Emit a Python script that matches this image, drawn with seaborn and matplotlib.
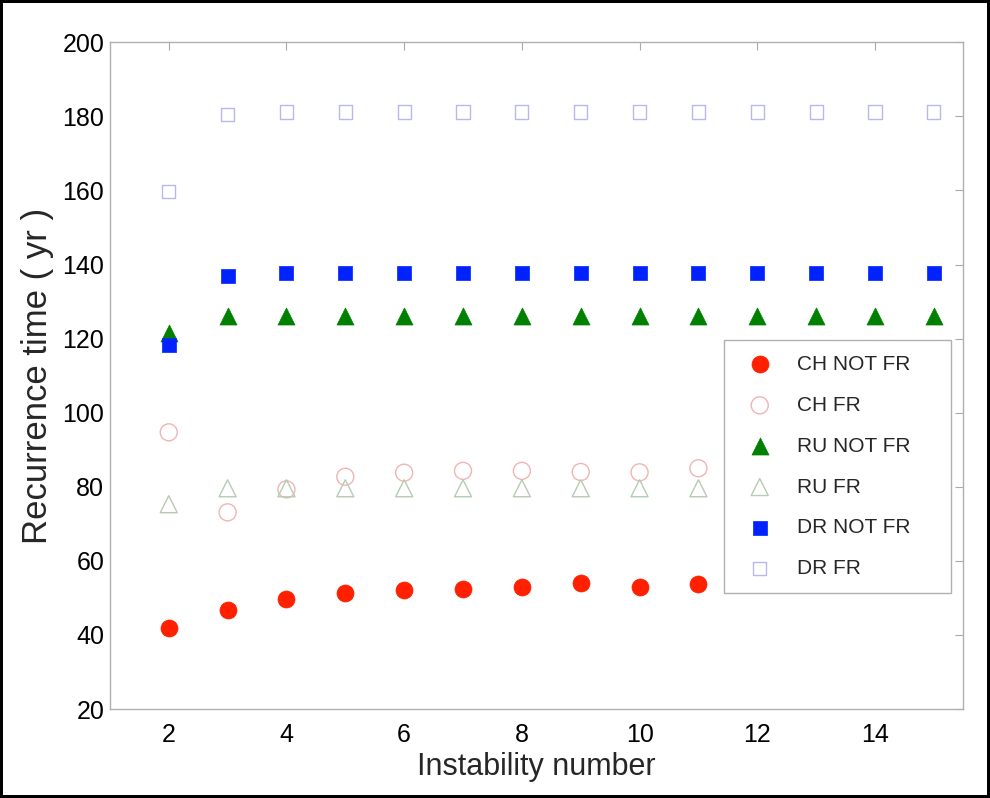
import numpy as np
import pandas as pd
import seaborn as sns
import matplotlib.pyplot as plt

## datos
x_full = [2, 3, 4, 5, 6, 7, 8, 9, 10, 11, 12, 13, 14, 15]
x_part = [2, 3, 4, 5, 6, 7, 8, 9, 10, 11]

ch_not_fr = [41.8, 46.7, 49.6, 51.2, 52.0, 52.3, 53.0, 53.9, 52.9, 53.8]
ch_fr = [94.7, 73.1, 79.3, 82.7, 83.8, 84.3, 84.3, 84.0, 83.9, 85.0]
ru_not_fr = [121.5, 126, 126, 126, 126, 126, 126, 126, 126, 126, 126, 126, 126, 126]
ru_fr = [75.3, 79.6, 79.6, 79.6, 79.6, 79.6, 79.6, 79.6, 79.6, 79.6]
dr_not_fr = [118.2, 136.9, 137.6, 137.6, 137.6, 137.6, 137.6, 137.6, 137.6, 137.6, 137.6, 137.6, 137.6, 137.6]
dr_fr = [159.8, 180.5, 181.2, 181.2, 181.2, 181.2, 181.2, 181.2, 181.2, 181.2, 181.2, 181.2, 181.2, 181.2]

sns.set_theme(style='white')
plt.rcParams['font.family'] = ['Liberation Sans Narrow', 'Liberation Sans', 'DejaVu Sans']

fig = plt.figure(figsize=(9.9, 7.98), dpi=100)
fig.patch.set_edgecolor('black')
fig.patch.set_linewidth(3)
ax = fig.add_axes([0.111, 0.1115, 0.862, 0.8355])

## series: (etiqueta, x, y, marcador, tamaño, color, relleno)
series = [
    ('CH NOT FR', x_part, ch_not_fr, 'o', 150, '#ff2000', True),
    ('CH FR', x_part, ch_fr, 'o', 150, '#f0b4b4', False),
    ('RU NOT FR', x_full, ru_not_fr, '^', 150, '#008000', True),
    ('RU FR', x_full[:10], ru_fr, '^', 150, '#b4ccb4', False),
    ('DR NOT FR', x_full, dr_not_fr, 's', 90, '#0022ff', True),
    ('DR FR', x_full, dr_fr, 's', 90, '#b8b8ec', False),
]

for nombre, xs, ys, m, s, c, relleno in series:
    df = pd.DataFrame({'x': xs, 'y': ys})
    if relleno:
        sns.scatterplot(data=df, x='x', y='y', marker=m, s=s, color=c,
                        edgecolor=c, linewidth=0.5, label=nombre, ax=ax)
    else:
        sns.scatterplot(data=df, x='x', y='y', marker=m, s=s, color=c,
                        facecolor='none', edgecolor=c, linewidth=1.0,
                        label=nombre, ax=ax)

ax.set_xlim(1, 15.5)
ax.set_ylim(20, 200)
ax.set_xticks(range(2, 15, 2))
ax.set_yticks(range(20, 201, 20))
ax.tick_params(direction='in', length=6, width=0.8, color='#aaaaaa',
               top=True, right=True, labelsize=18, labelcolor='black', pad=4)
ax.tick_params(axis='x', pad=10)
for sp in ax.spines.values():
    sp.set_color('#b0b0b0')
    sp.set_linewidth(1)

ax.set_xlabel('Instability number', fontsize=22, labelpad=4)
ax.set_ylabel('Recurrence time ( yr )', fontsize=25, labelpad=6)

leg = ax.legend(loc='upper left', bbox_to_anchor=(0.72, 0.177, 0.266, 0.376),
                mode='expand', fancybox=False,
                frameon=True, fontsize=15, labelspacing=1.05, borderpad=0.7,
                handletextpad=0.8, borderaxespad=0, framealpha=1)
leg.get_frame().set_edgecolor('#b0b0b0')
leg.get_frame().set_linewidth(1)

plt.savefig('out.png', dpi=100, edgecolor=fig.get_edgecolor())
